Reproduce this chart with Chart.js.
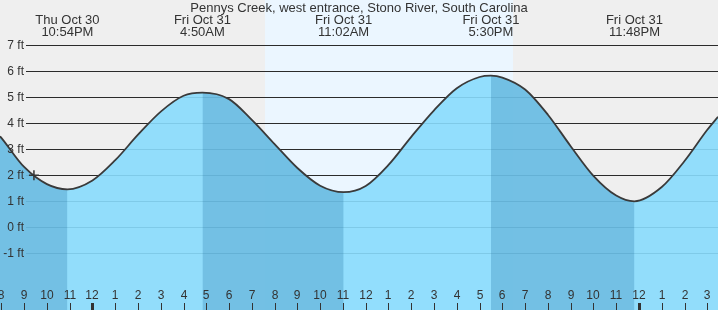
<!DOCTYPE html>
<html>
<head>
<meta charset="utf-8">
<script src="https://cdn.jsdelivr.net/npm/chart.js@4.4.1/dist/chart.umd.min.js"></script>
<style>
  html, body { margin: 0; padding: 0; background: #efefef; }
  #tide { display: block; background: #efefef; }
</style>
</head>
<body>
<canvas id="tide" width="718" height="310"></canvas>
<script>
// ── Data (hours from Fri Oct 31 00:00, heights in ft) ───────────────────────
const TITLE = 'Pennys Creek, west entrance, Stono River, South Carolina';

const TIDE_HOURS = [-4.06, -4, -3, -2, -1.1, 0, 1, 2, 3, 4, 4.83, 6, 7, 8, 9, 10, 11.03,
  12, 13, 14, 15, 16, 17, 17.5, 18, 19, 20, 21, 22, 23, 23.8, 25, 26, 27, 27.47];
const TIDE_FEET = [3.50, 3.44, 2.32, 1.66, 1.46, 1.80, 2.58, 3.56, 4.45, 5.06, 5.18, 4.93, 4.13, 3.20, 2.28, 1.60, 1.35,
  1.59, 2.40, 3.48, 4.50, 5.35, 5.78, 5.83, 5.76, 5.30, 4.33, 3.12, 1.98, 1.22, 1.00, 1.55, 2.55, 3.75, 4.25];

// high / low tide labels
const EXTREME_HOURS = [-1.10, 4.83, 11.03, 17.50, 23.80];
const EXTREME_DAYS = ['Thu Oct 30', 'Fri Oct 31', 'Fri Oct 31', 'Fri Oct 31', 'Fri Oct 31'];
const EXTREME_TIMES = ['10:54PM', '4:50AM', '11:02AM', '5:30PM', '11:48PM'];

// daylight (sunrise / sunset)
const DAYLIGHT = [7.58, 18.47];

// current time marker
const NOW_HOUR = [-2.57];
const NOW_FEET = [2.0];

const Y_TICKS = [-1, 0, 1, 2, 3, 4, 5, 6, 7];
const Y_TICK_LABELS = ['-1 ft', '0 ft', '1 ft', '2 ft', '3 ft', '4 ft', '5 ft', '6 ft', '7 ft'];

const X_TICK_HOURS = [-4, -3, -2, -1, 0, 1, 2, 3, 4, 5, 6, 7, 8, 9, 10, 11, 12,
  13, 14, 15, 16, 17, 18, 19, 20, 21, 22, 23, 24, 25, 26, 27];
const X_TICK_LABELS = ['8', '9', '10', '11', '12', '1', '2', '3', '4', '5', '6', '7', '8', '9', '10', '11', '12',
  '1', '2', '3', '4', '5', '6', '7', '8', '9', '10', '11', '12', '1', '2', '3'];

// ── Styling ─────────────────────────────────────────────────────────────────
const FONT = "'Liberation Sans', Arial, sans-serif";
const TEXT = '#333333';
const WATER = 'rgba(136,219,253,0.9)';
const EBB_TINT = 'rgba(18,105,156,0.25)';   // darkens falling-tide stretches
const DAY_BAND = '#ebf6ff';

const tidePoints = () => TIDE_HOURS.map((h, i) => ({ x: h, y: TIDE_FEET[i] }));

const decor = {
  id: 'decor',
  beforeDatasetsDraw(chart) {
    const { ctx, chartArea: a, scales: { x, y } } = chart;
    ctx.save();
    // daylight band
    const x0 = Math.round(x.getPixelForValue(DAYLIGHT[0]));
    const x1 = Math.round(x.getPixelForValue(DAYLIGHT[1]));
    ctx.fillStyle = DAY_BAND;
    ctx.fillRect(x0, a.top, x1 - x0, a.bottom - a.top);
    // horizontal grid
    ctx.strokeStyle = '#2b2b2b';
    ctx.lineWidth = 1;
    Y_TICKS.forEach(v => {
      const py = Math.round(y.getPixelForValue(v)) + 0.5;
      ctx.beginPath();
      ctx.moveTo(26, py);
      ctx.lineTo(a.right, py);
      ctx.stroke();
    });
    ctx.restore();
  },
  afterDatasetsDraw(chart) {
    const { ctx, chartArea: a, scales: { x, y } } = chart;
    ctx.save();
    ctx.fillStyle = TEXT;
    ctx.textBaseline = 'middle';

    // y labels
    ctx.font = '12px ' + FONT;
    ctx.textAlign = 'right';
    Y_TICKS.forEach((v, i) => {
      ctx.fillText(Y_TICK_LABELS[i], 24, y.getPixelForValue(v));
    });

    // x ticks
    ctx.textAlign = 'center';
    X_TICK_HOURS.forEach((h, i) => {
      const px = Math.round(x.getPixelForValue(h));
      ctx.fillText(X_TICK_LABELS[i], px, a.bottom - 14);
      const w = (h % 24 === 0) ? 3 : 1;
      ctx.fillRect(px - Math.floor(w / 2), a.bottom - 7, w, 7);
    });

    // title
    ctx.font = '13px ' + FONT;
    ctx.fillText(TITLE, (a.left + a.right) / 2, 8);

    // high / low labels
    EXTREME_HOURS.forEach((h, i) => {
      const px = x.getPixelForValue(h);
      ctx.fillText(EXTREME_DAYS[i], px, 20);
      ctx.fillText(EXTREME_TIMES[i], px, 32);
    });
    ctx.restore();
  }
};

const common = {
  pointRadius: 0,
  cubicInterpolationMode: 'monotone',
};

new Chart(document.getElementById('tide'), {
  type: 'line',
  data: {
    datasets: [
      {
        label: 'now',
        data: NOW_HOUR.map((h, i) => ({ x: h, y: NOW_FEET[i] })),
        showLine: false,
        pointStyle: 'cross',
        pointRadius: 5,
        borderColor: '#333333',
        borderWidth: 1.5,
        order: 0,
      },
      {
        ...common,
        label: 'curve',
        data: tidePoints(),
        fill: false,
        borderColor: '#3a3a3a',
        borderWidth: 1.8,
        order: 1,
      },
      {
        ...common,
        label: 'ebb',
        data: tidePoints(),
        fill: 'start',
        borderWidth: 0,
        borderColor: 'transparent',
        backgroundColor: 'transparent',
        segment: {
          backgroundColor: c => c.p1.parsed.y < c.p0.parsed.y ? EBB_TINT : 'transparent',
        },
        order: 2,
      },
      {
        ...common,
        label: 'water',
        data: tidePoints(),
        fill: 'start',
        borderWidth: 0,
        borderColor: 'transparent',
        backgroundColor: WATER,
        order: 3,
      },
    ],
  },
  options: {
    responsive: false,
    devicePixelRatio: 1,
    animation: false,
    layout: { padding: 0, autoPadding: false },
    plugins: { legend: { display: false }, tooltip: { enabled: false }, title: { display: false } },
    scales: {
      x: { type: 'linear', min: -4.06, max: 27.47, display: false },
      y: { type: 'linear', min: -3.181, max: 8.742, display: false },
    },
  },
  plugins: [decor],
});
</script>
</body>
</html>
